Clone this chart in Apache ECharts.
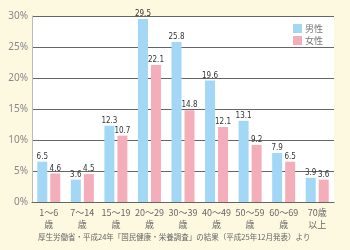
<!DOCTYPE html>
<html><head><meta charset="utf-8">
<script src="https://cdn.jsdelivr.net/npm/echarts@6/dist/echarts.min.js"></script>
<style>html,body{margin:0;padding:0;background:#fdf9e1;}#c{width:350px;height:250px;}</style>
</head><body><div id="c"></div>
<script>
const categories = ['1〜6\n歳','7〜14\n歳','15〜19\n歳','20〜29\n歳','30〜39\n歳','40〜49\n歳','50〜59\n歳','60〜69\n歳','70歳\n以上'];
const male = [6.5, 3.6, 12.3, 29.5, 25.8, 19.6, 13.1, 7.9, 3.9];
const female = [4.6, 4.5, 10.7, 22.1, 14.8, 12.1, 9.2, 6.5, 3.6];
const seriesNames = ['男性', '女性'];
const sourceText = '厚生労働省・平成24年「国民健康・栄養調査」の結果（平成25年12月発表）より';
const FONT = '"Noto Sans CJK JP", "Noto Sans", sans-serif';
const chart = echarts.init(document.getElementById('c'));
const labelStyle = {show:true, position:'top', distance:1, fontSize:8, color:'#333', fontFamily:'"Liberation Sans Narrow", "DejaVu Sans Condensed", sans-serif'};
chart.setOption({
  backgroundColor:'#fdf9e1',
  animation:false,
  textStyle:{fontFamily:FONT},
  grid:{left:32, right:16, top:16, bottom:48, show:true, backgroundColor:'#ffffff', borderWidth:0},
  legend:{orient:'vertical', right:22, top:19, itemWidth:9, itemHeight:9, itemGap:3, icon:'rect',
    textStyle:{fontSize:9, color:'#777', fontFamily:FONT, padding:[0,0,0,-2]}, data:seriesNames},
  xAxis:{type:'category', data:categories,
    axisLine:{lineStyle:{color:'#666', width:1}}, axisTick:{show:false},
    axisLabel:{fontSize:9, color:'#666', lineHeight:12, margin:5, interval:0, fontFamily:FONT}},
  yAxis:{type:'value', min:0, max:30, interval:5,
    axisLine:{show:true, lineStyle:{color:'#bbb'}}, axisTick:{show:false},
    axisLabel:{formatter:'{value}%', fontSize:10, color:'#888', margin:4, fontFamily:'"Noto Sans", sans-serif'},
    splitLine:{lineStyle:{color:'#666', width:1.2}}},
  series:[
    {name:seriesNames[0], type:'bar', data:male, barWidth:10, barGap:'30%', itemStyle:{color:'#a2d7f5'}, label:labelStyle},
    {name:seriesNames[1], type:'bar', data:female, barWidth:10, barGap:'30%', itemStyle:{color:'#f4aeba'}, label:labelStyle}
  ],
  graphic:[{type:'text', left:38, top:233, style:{text:sourceText, fontSize:7.5, fill:'#666', fontFamily:FONT}}]
});
</script></body></html>
